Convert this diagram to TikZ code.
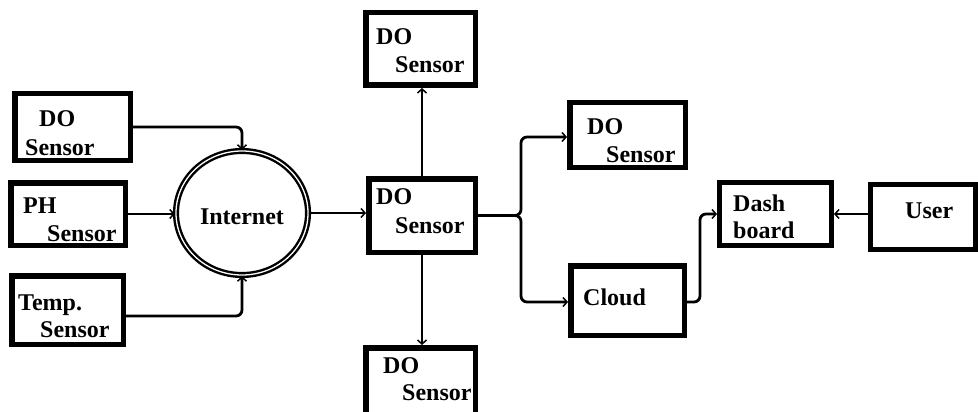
\documentclass[tikz,border=0pt]{standalone}
\usepackage{fontspec}
\setmainfont{Liberation Serif}
\usetikzlibrary{arrows.meta,shapes.geometric,calc}
\tikzset{
  box/.style={draw, line width=5.5pt, inner sep=0pt},
  thinbox/.style={draw, line width=5pt, inner sep=0pt},
  lbl/.style={anchor=base west, inner sep=0pt, font=\fontsize{24}{24}\selectfont\bfseries},
  conn/.style={line width=2.8pt, rounded corners=6pt, -{Straight Barb[length=4pt,width=9pt,line width=1.5pt]}},
  net/.style={ellipse, draw, line width=2.4pt, double, double distance=1.3pt, inner sep=0pt}
}
\begin{document}
\begin{tikzpicture}[x=1pt,y=-1pt]
\useasboundingbox (0,0) rectangle (978,412);
\clip (0,0) rectangle (978,412);
% boxes
\node[box, minimum width=115.5pt, minimum height=66.5pt] (ldo) at (72.5,127) {};
\node[box, minimum width=114.5pt, minimum height=62.5pt] (ph) at (68,214) {};
\node[box, minimum width=111.5pt, minimum height=68.5pt] (temp) at (67.5,310) {};
\node[net, minimum width=132pt, minimum height=124pt] (inet) at (242,213) {};
\node[box, minimum width=109.5pt, minimum height=72.5pt] (tdo) at (420.5,49) {};
\node[box, minimum width=106.5pt, minimum height=73.5pt] (cdo) at (422,215.5) {};
\node[box, minimum width=109.5pt, minimum height=68.5pt] (bdo) at (420.5,382) {};
\node[box, minimum width=115.5pt, minimum height=64.5pt] (rdo) at (627.5,135) {};
\node[box, minimum width=113.5pt, minimum height=69.5pt] (cloud) at (627.5,300.5) {};
\node[thinbox, minimum width=112pt, minimum height=63pt] (dash) at (775.5,214) {};
\node[thinbox, minimum width=105pt, minimum height=65pt] (user) at (923,217) {};
% labels
\node[lbl] (t1) at (39,127) {DO};
\node[lbl] (t2) at (25,155) {Sensor};
\node[lbl] (t3) at (23,213) {PH};
\node[lbl] (t4) at (47,241) {Sensor};
\node[lbl] (t5) at (18,310) {Temp.};
\node[lbl] (t6) at (40,337) {Sensor};
\node[lbl, anchor=base] (t7) at (242,224) {Internet};
\node[lbl] (t8) at (376,45) {DO};
\node[lbl] (t9) at (395,73) {Sensor};
\node[lbl] (t10) at (376,204) {DO};
\node[lbl] (t11) at (395,233) {Sensor};
\node[lbl] (t12) at (383,373) {DO};
\node[lbl] (t13) at (402,400) {Sensor};
\node[lbl] (t14) at (587,134) {DO};
\node[lbl] (t15) at (606,162) {Sensor};
\node[lbl] (t16) at (583,305) {Cloud};
\node[lbl] (t17) at (733,211) {Dash};
\node[lbl] (t18) at (733,238) {board};
\node[lbl] (t19) at (905,218) {User};
% connectors
\draw[conn] (ldo.east) -| (inet.north);
\draw[conn] (ph.east) -- (ph.east -| inet.west);
\draw[conn] ($(temp.east)+(0,6)$) -| (inet.south);
\draw[conn] (inet.east) -- (inet.east -| cdo.west);
\draw[conn] (cdo.north) -- (cdo.north |- tdo.south);
\draw[conn] (cdo.south) -- (cdo.south |- bdo.north);
\coordinate (split) at (521,215.5);
\draw[conn] (cdo.east) -- (split) |- ($(rdo.west)+(0,2)$);
\draw[conn] (cdo.east) -- (split) |- ($(cloud.west)+(0,1.5)$);
\draw[conn] ($(cloud.east)+(0,1.5)$) -- ++(13,0) |- (dash.west);
\draw[conn] (user.west |- dash.east) -- (dash.east);
\end{tikzpicture}
\end{document}
